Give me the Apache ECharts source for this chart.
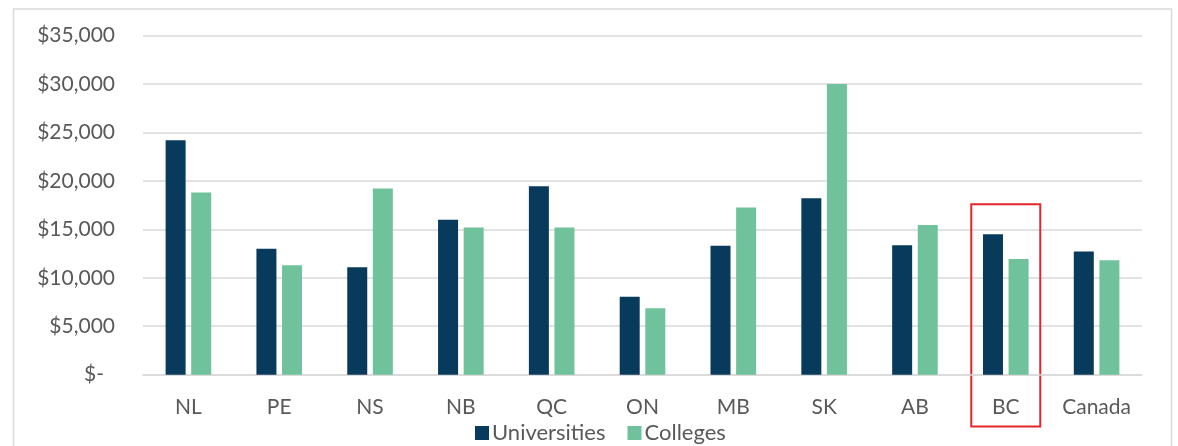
<!DOCTYPE html>
<html>
<head>
<meta charset="utf-8">
<script src="https://cdn.jsdelivr.net/npm/echarts@6/dist/echarts.min.js"></script>
<style>
  html, body { margin: 0; padding: 0; background: #fff; }
  #chart { width: 1178px; height: 446px; }
</style>
</head>
<body>
<div id="chart"></div>
<script>
const categories = ['NL', 'PE', 'NS', 'NB', 'QC', 'ON', 'MB', 'SK', 'AB', 'BC', 'Canada']
const universities = [24200, 13000, 11100, 16000, 19450, 8050, 13300, 18200, 13350, 14500, 12700]
const colleges = [18800, 11300, 19200, 15200, 15200, 6850, 17250, 30000, 15450, 11950, 11800]
const highlight = 'BC'

const font = 'Lato, "Noto Sans", sans-serif'
const textColor = '#595959'

const chart = echarts.init(document.getElementById('chart'))

const option = {
  animation: false,
  backgroundColor: '#fff',
  textStyle: { fontFamily: font },
  grid: { left: 143, right: 36, top: 35.5, bottom: 71.3 },
  legend: {
    data: ['Universities', 'Colleges'],
    left: 470,
    top: 417,
    itemWidth: 14,
    itemHeight: 14,
    itemGap: 22,
    icon: 'rect',
    textStyle: { color: textColor, fontSize: 22, fontFamily: font, padding: [0, 0, 0, -2] }
  },
  xAxis: {
    type: 'category',
    data: categories,
    axisLine: { lineStyle: { color: '#d9d9d9', width: 1.5 } },
    axisTick: { show: false },
    axisLabel: { color: textColor, fontSize: 21, margin: 22 }
  },
  yAxis: {
    type: 'value',
    min: 0,
    max: 35000,
    interval: 5000,
    axisLine: { show: false },
    axisTick: { show: false },
    splitLine: { lineStyle: { color: '#d9d9d9', width: 1.5 } },
    axisLabel: {
      color: textColor,
      fontSize: 21,
      margin: 28,
      formatter: function (v) {
        if (v === 0) return '{z|$-}'
        return '$' + v.toLocaleString('en-US')
      },
      rich: { z: { fontSize: 21, color: textColor, padding: [0, 11, 0, 0] } }
    }
  },
  series: [
    {
      name: 'Universities',
      type: 'bar',
      data: universities,
      barWidth: 20,
      barGap: '28%',
      itemStyle: { color: '#083a5c' }
    },
    {
      name: 'Colleges',
      type: 'bar',
      data: colleges,
      barWidth: 20,
      itemStyle: { color: '#70c29c' }
    }
  ]
}

chart.setOption(option)

// outer frame and the red box round the highlighted province
const cx = chart.convertToPixel({ xAxisIndex: 0 }, highlight)
const boxTop = chart.convertToPixel({ yAxisIndex: 0 }, 17600)
chart.setOption({
  graphic: [
    {
      type: 'rect',
      shape: { x: 13.5, y: 9, width: 1158, height: 460 },
      style: { fill: null, stroke: '#d9d9d9', lineWidth: 1.5 },
      silent: true
    },
    {
      type: 'rect',
      shape: { x: cx - 34.5, y: boxTop, width: 69, height: 426.5 - boxTop },
      style: { fill: null, stroke: '#e3262b', lineWidth: 2 },
      silent: true
    }
  ]
})
</script>
</body>
</html>
